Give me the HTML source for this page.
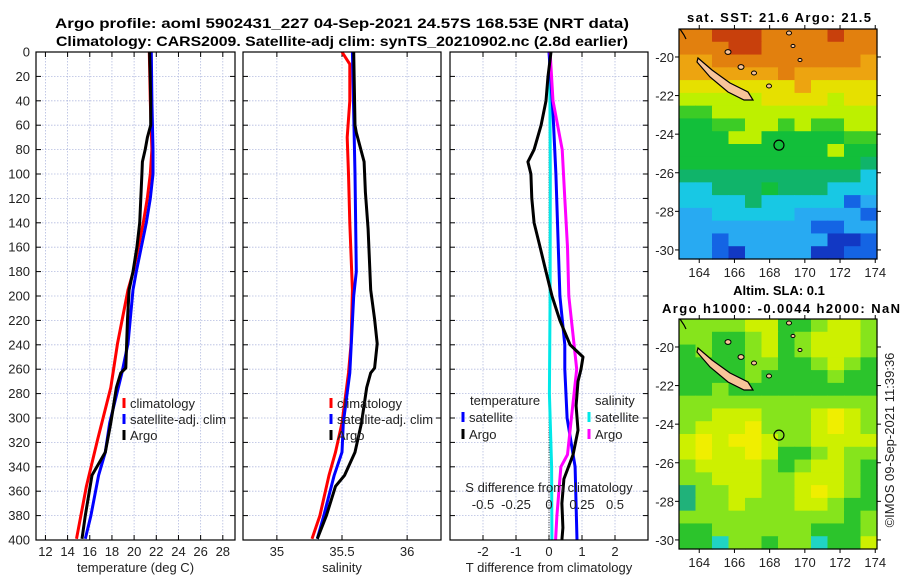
<!DOCTYPE html>
<html><head><meta charset="utf-8"><style>
html,body{margin:0;padding:0;background:#fff;width:900px;height:580px;overflow:hidden}
text{font-family:"Liberation Sans","DejaVu Sans",sans-serif;fill:#222}
.b{font-weight:bold;fill:#000}
</style></head><body>
<svg id="s" width="900" height="580" xmlns="http://www.w3.org/2000/svg">
<g>
<text class="b" x="342" y="28" font-size="13.5" text-anchor="middle" textLength="574" lengthAdjust="spacingAndGlyphs">Argo profile: aoml 5902431_227 04-Sep-2021 24.57S 168.53E (NRT data)</text>
<text class="b" x="342" y="46" font-size="13.5" text-anchor="middle" textLength="572" lengthAdjust="spacingAndGlyphs">Climatology: CARS2009. Satellite-adj clim: synTS_20210902.nc (2.8d earlier)</text>
</g>
</svg>
<script>
// ---- data ----
const depthTicks=[0,20,40,60,80,100,120,140,160,180,200,220,240,260,280,300,320,340,360,380,400];
const tTicks=[12,14,16,18,20,22,24,26,28];
const sTicks=[35,35.5,36];
const dTicks=[-2,-1,0,1,2];
const sdTickLabels=["-0.5","-0.25","0","0.25","0.5"];
const sdTicks=[-0.5,-0.25,0,0.25,0.5];
const tArgoDepth=[0,20,40,60,70,80,90,100,120,140,160,180,195,219,259,263,275,304,328,347,380,399];
const tArgo=[21.4,21.45,21.5,21.5,21.2,21.0,20.75,20.7,20.6,20.5,20.25,19.9,19.55,19.4,19.25,18.8,18.4,17.9,17.4,16.2,15.6,15.3];
const tClimDepth=[0,40,80,100,120,140,160,180,195,239,275,318,356,399];
const tClim=[21.37,21.46,21.6,21.46,21.19,20.83,20.38,19.93,19.45,18.5,17.9,16.7,15.7,14.8];
const tSatDepth=[0,40,80,100,120,140,160,180,195,239,263,304,328,347,380,399];
const tSat=[21.55,21.6,21.7,21.7,21.46,21.1,20.65,20.2,19.9,19.45,18.9,17.8,17.4,16.8,16.1,15.6];
const sClimDepth=[0,10,40,70,100,140,195,239,263,304,328,347,380,399];
const sClim=[35.5,35.56,35.56,35.54,35.55,35.56,35.58,35.57,35.55,35.5,35.45,35.4,35.33,35.27];
const sSatDepth=[0,100,180,200,263,304,328,347,380,399];
const sSat=[35.58,35.6,35.61,35.59,35.56,35.51,35.5,35.44,35.36,35.31];
const sArgoDepth=[0,60,66,90,115,145,195,219,239,259,263,275,304,328,347,356,380,399];
const sArgo=[35.59,35.6,35.61,35.67,35.68,35.7,35.72,35.75,35.77,35.75,35.72,35.69,35.65,35.6,35.52,35.45,35.38,35.31];
const dtSatDepth=[0,50,100,200,240,260,300,320,340,400];
const dtSat=[0,0.12,0.21,0.33,0.48,0.48,0.55,0.67,0.79,0.85];
const dtArgoDepth=[0,20,40,60,80,90,100,120,140,160,180,200,220,240,250,260,270,290,310,330,350,370,390,400];
const dtArgo=[0.06,-0.03,-0.09,-0.24,-0.45,-0.64,-0.55,-0.52,-0.45,-0.27,-0.09,0.09,0.33,0.64,1.03,0.97,0.88,0.82,0.88,0.73,0.45,0.39,0.42,0.39];
const dsSatDepth=[0,100,200,280,340,400];
const dsSat=[0.005,0.01,0.008,0.003,0.02,0.022];
const dsArgoDepth=[0,40,80,120,160,200,240,260,300,330,340,380,400];
const dsArgo=[0.008,0.03,0.1,0.12,0.14,0.15,0.19,0.21,0.17,0.14,0.09,0.06,0.05];
const lonTicks=[164,166,168,170,172,174];
const latTicks=[-20,-22,-24,-26,-28,-30];
const sstRows=["OORRROOOOROO","OOORROOOOOOO","ooOOOOOOOOOo","ooooooOooooo","YYYYYYYoYYYY","yyyyyYYYYyYY","GGyyyyyyyyyy","ggGGyyGyGGyy","gggyygggggGG","gggggggggygg","gggggggggggT","TTTTTTTTTTTC","CCTTTgTTTCCC","CCCCTCCCCCBc","ccCCCCCccccB","ccccccccBBcc","ccBccccccDDB","ccBDccccDDBB"];
const slaRows=["LLLLyyGGLyyL","LLGGLyGLyyyL","GLGGLyGLyyyL","GGGGLLGGLyLG","GGGGLGGGGLGG","GGLGGGGGGGGG","LLLLLLLLLLLL","LLyyyLLLyYyL","LyyyYLLLyYyL","yYyYYyLLyyyy","yYyyYyGGLyLL","LyyyyLGLyyLG","LLyyyLLyyyLG","TLLyyLLyYyLG","TLLyLLLyyLGG","LLLLLLLLLLGL","GGLLLLLLGGGL","GGCLLGLLCGGy"];
const argoLon=168.53, argoLat=-24.57;

// ---- helpers ----
const NS="http://www.w3.org/2000/svg";
const svg=document.getElementById('s');
function el(tag,attrs,parent,txt){const e=document.createElementNS(NS,tag);for(const k in attrs)e.setAttribute(k,attrs[k]);if(txt!==undefined)e.textContent=txt;(parent||svg).appendChild(e);return e;}
const Y0=52,Y1=540;
const yD=d=>Y0+(d/400)*(Y1-Y0);
const panels=[
 {x0:36,x1:235,v0:11.15,v1:29.1,ticks:tTicks,title:"temperature (deg C)",name:"temperature-panel"},
 {x0:243,x1:441,v0:34.74,v1:36.26,ticks:sTicks,title:"salinity",name:"salinity-panel"},
 {x0:450,x1:648,v0:-3,v1:3,ticks:dTicks,title:"T difference from climatology",name:"difference-panel"}];
panels.forEach((p,i)=>{p.xs=v=>p.x0+(v-p.v0)/(p.v1-p.v0)*(p.x1-p.x0);
 const g=el('g',{});
 
 
 p.g=g;
 depthTicks.forEach(d=>{const l=el('line',{x1:p.x0,x2:p.x1,y1:yD(d),y2:yD(d),stroke:'#b4bce0','stroke-width':0.8,'stroke-dasharray':'1.5,1.5'},g);
  el('line',{x1:p.x0,x2:p.x0+5,y1:yD(d),y2:yD(d),stroke:'#000'},g);el('line',{x1:p.x1,x2:p.x1-5,y1:yD(d),y2:yD(d),stroke:'#000'},g);
  if(i==0){const t=el('text',{x:30,y:yD(d)+4.5,'font-size':13,'text-anchor':'end'},g,String(d));}});
 p.ticks.forEach(v=>{const x=p.xs(v);
  el('line',{x1:x,x2:x,y1:Y0,y2:Y1,stroke:'#b4bce0','stroke-width':0.8,'stroke-dasharray':'1.5,1.5'},g);
  el('line',{x1:x,x2:x,y1:Y1,y2:Y1-5,stroke:'#000'},g);el('line',{x1:x,x2:x,y1:Y0,y2:Y0+5,stroke:'#000'},g);
  const t=el('text',{x:x,y:556,'font-size':13,'text-anchor':'middle'},g,String(v));});
 const at=el('text',{x:(p.x0+p.x1)/2,y:572,'font-size':13,'text-anchor':'middle'},g,p.title);
 
 
});
function line(p,vals,depths,color,name,scale){
 const pts=vals.map((v,k)=>p.xs(v*(scale||1)).toFixed(1)+','+yD(depths[k]).toFixed(1)).join(' ');
 const l=el('polyline',{points:pts,fill:'none',stroke:color,'stroke-width':3,'stroke-linejoin':'round'},p.g);
 
 
}
const [P1,P2,P3]=panels;
el('line',{x1:P3.xs(0),x2:P3.xs(0),y1:Y0,y2:Y1,stroke:'#333','stroke-dasharray':'1,1.5'},P3.g);
line(P1,tClim,tClimDepth,'#ff0000','temperature-climatology-line');
line(P1,tSat,tSatDepth,'#0000ff','temperature-satellite-line');
line(P1,tArgo,tArgoDepth,'#000000','temperature-argo-line');
line(P2,sClim,sClimDepth,'#ff0000','salinity-climatology-line');
line(P2,sSat,sSatDepth,'#0000ff','salinity-satellite-line');
line(P2,sArgo,sArgoDepth,'#000000','salinity-argo-line');
line(P3,dsSat,dsSatDepth,'#00e8e8','salinity-diff-satellite-line',4);
line(P3,dtSat,dtSatDepth,'#0000ff','temperature-diff-satellite-line');
line(P3,dsArgo,dsArgoDepth,'#ff00ff','salinity-diff-argo-line',4);
line(P3,dtArgo,dtArgoDepth,'#000000','temperature-diff-argo-line');
panels.forEach(p=>{const r=el('rect',{x:p.x0,y:Y0,width:p.x1-p.x0,height:Y1-Y0,fill:'none',stroke:'#000','stroke-width':1.2},p.g);});
const sdl=el('text',{x:549,y:492,'font-size':13,'text-anchor':'middle'},P3.g,'S difference from climatology');


sdTicks.forEach((v,k)=>{const t=el('text',{x:P3.xs(v*4),y:509,'font-size':13,'text-anchor':'middle'},P3.g,sdTickLabels[k]);});
function legend(x,y,color,label,parent){const g=el('g',{},parent);
 
 
 el('line',{x1:x,x2:x,y1:y-10,y2:y,stroke:color,'stroke-width':3},g);el('text',{x:x+6,y:y,'font-size':13},g,label);}
legend(124,408,'#ff0000','climatology',P1.g);legend(124,424,'#0000ff','satellite-adj. clim',P1.g);legend(124,440,'#000000','Argo',P1.g);
legend(331,408,'#ff0000','climatology',P2.g);legend(331,424,'#0000ff','satellite-adj. clim',P2.g);legend(331,440,'#000000','Argo',P2.g);
el('text',{x:470,y:405,'font-size':13},P3.g,'temperature');el('text',{x:595,y:405,'font-size':13},P3.g,'salinity');
legend(463,422,'#0000ff','satellite',P3.g);legend(463,439,'#000000','Argo',P3.g);
legend(589,422,'#00e8e8','satellite',P3.g);legend(589,439,'#ff00ff','Argo',P3.g);
const pal={R:'#c8400c',O:'#e2800e',o:'#eda410',Y:'#e6e000',y:'#bdf000',G:'#3ccc26',g:'#12bf3a',T:'#10b46a',C:'#18c8e4',c:'#28aaf2',B:'#1464e4',D:'#1238c4',L:'#86e41c'};
const slaPal={L:'#86e41c',y:'#cdf000',Y:'#f0ee00',G:'#2cc42c',T:'#20b27a',C:'#20d4c4'};
const LON0=162.85,LON1=174.1,LAT0=-18.55,LAT1=-30.47;
function map(top,rows,palette,name,titles){
 const x0=679,x1=877,y0=top,y1=top+230;
 const g=el('g',{});
 const lx=v=>x0+(v-LON0)/(LON1-LON0)*(x1-x0), ly=v=>y0+(v-LAT0)/(LAT1-LAT0)*(y1-y0);
 const nr=rows.length;
 rows.forEach((r,ri)=>{const nc=12;for(let ci=0;ci<nc;ci++){const ch=r[ci]||r[r.length-1];
  const c=el('rect',{x:x0+ci*(x1-x0)/nc,y:y0+ri*(y1-y0)/nr,width:(x1-x0)/nc+0.6,height:(y1-y0)/nr+0.6,fill:palette[ch]||'#3c3'},g);
  }});
 const isl=el('polygon',{points:[[698,58],[712,70],[730,83],[748,92],[753,100],[744,100],[728,92],[710,77],[697,62]].map(p=>p[0]+','+(p[1]-29+y0)).join(' '),fill:'#f8c49a',stroke:'#000','stroke-width':1.2},g);
 
 [[728,52,3],[741,67,3],[754,73,2.5],[769,86,2.5],[789,33,2.5],[793,46,2],[800,60,2]].forEach(p=>el('ellipse',{cx:p[0],cy:p[1]-29+y0,rx:p[2],ry:p[2]*0.8,fill:'#f8c49a',stroke:'#000'},g));
 el('polyline',{points:`680,${y0} 684,${y0+6} 686,${y0+10}`,fill:'none',stroke:'#000','stroke-width':1.2},g);
 const c=el('circle',{cx:lx(argoLon),cy:ly(argoLat),r:5,fill:'none',stroke:'#000','stroke-width':1.2},g);
 
 el('rect',{x:x0,y:y0,width:x1-x0,height:y1-y0,fill:'none',stroke:'#000','stroke-width':1.2},g);
 lonTicks.forEach(v=>{const x=lx(v);el('line',{x1:x,x2:x,y1:y1,y2:y1+4,stroke:'#000'},g);el('line',{x1:x,x2:x,y1:y0,y2:y0-4,stroke:'#000'},g);
  const t=el('text',{x:x,y:y1+18,'font-size':13,'text-anchor':'middle'},g,String(v));});
 latTicks.forEach(v=>{const y=ly(v);el('line',{x1:x0,x2:x0-4,y1:y,y2:y,stroke:'#000'},g);el('line',{x1:x1,x2:x1+4,y1:y,y2:y,stroke:'#000'},g);
  const t=el('text',{x:674,y:y+5,'font-size':13,'text-anchor':'end'},g,String(v));});
 titles.forEach(t=>{const e=el('text',{x:t[1],y:t[2],'font-size':13,'text-anchor':'middle',class:'b'},g,t[0]);if(t[3])e.setAttribute('textLength',t[3]);});
}
map(29,sstRows,pal,'sst-map',[['sat. SST: 21.6 Argo: 21.5',779,22,184]]);
map(319,slaRows,slaPal,'sla-map',[['Altim. SLA: 0.1',779,295,0],['Argo h1000: -0.0044 h2000: NaN',781,313,238]]);
const cp=el('text',{x:0,y:0,'font-size':13,'text-anchor':'middle',transform:'translate(894,440) rotate(-90)'},svg,'©IMOS 09-Sep-2021 11:39:36');


</script>
</body></html>
